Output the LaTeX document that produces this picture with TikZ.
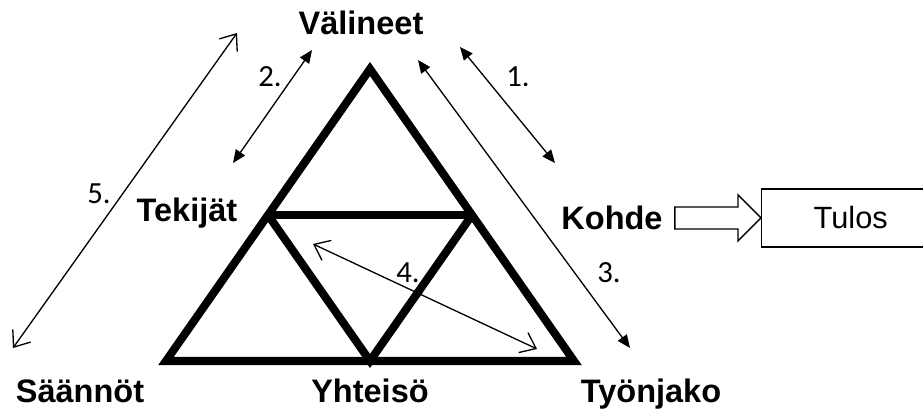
\documentclass[tikz,border=0pt]{standalone}
\usepackage{fontspec}
\setmainfont{Liberation Sans}
\newfontfamily\numfont{Carlito}
\usepackage{tikz}
\usetikzlibrary{arrows.meta,calc}

\tikzset{
  corner/.style={font=\fontsize{18.5}{22}\selectfont\bfseries,inner sep=0pt,anchor=base},
  numlabel/.style={font=\fontsize{17.5}{20}\selectfont\numfont,inner sep=0pt,anchor=base},
  frame/.style={line width=4.6pt,line join=miter},
  solidarrow/.style={line width=0.75pt,{Triangle[length=2.6mm,width=2.2mm]}-{Triangle[length=2.6mm,width=2.2mm]}},
  openarrow/.style={line width=0.75pt,{Straight Barb[length=2.8mm,width=4.4mm]}-{Straight Barb[length=2.8mm,width=4.4mm]}},
}

\begin{document}
\begin{tikzpicture}
\useasboundingbox (0,0) rectangle (18.46,8.18);

% the big triangle and its inner one
\coordinate (top) at (7.40,6.80);
\coordinate (left) at (3.32,0.96);
\coordinate (right) at (11.48,0.96);
\coordinate (midl) at ($(top)!0.5!(left)$);
\coordinate (midr) at ($(top)!0.5!(right)$);
\coordinate (midb) at ($(left)!0.5!(right)$);
\draw[frame] (top) -- (left) -- (right) -- cycle;
\draw[frame] (midl) -- (midr);
\draw[frame] (midl) -- (midb) -- (midr);

% corner labels (placed on their baselines)
\node[corner] (valineet) at (7.22,7.48) {Välineet};
\node[corner] (tekijat) at (3.74,3.74) {Tekijät};
\node[corner] (kohde) at (12.24,3.58) {Kohde};
\node[corner] (saannot) at (1.60,0.12) {Säännöt};
\node[corner] (yhteiso) at (7.40,0.12) {Yhteisö};
\node[corner] (tyonjako) at (13.02,0.12) {Työnjako};

% result box, running off the right edge
\node[draw,line width=0.85pt,minimum width=3.8cm,minimum height=1.16cm,anchor=west,
  font=\fontsize{17.5}{20}\selectfont] (tulos) at (15.22,3.82) {\hspace*{-0.24cm}Tulos};

% hollow arrow from Kohde to Tulos
\coordinate (bstart) at ($(kohde.east)+(0.24,0.22)$);
\coordinate (bend) at (tulos.west);
\draw[line width=0.8pt,fill=white]
  (bstart |- {$(bend)+(0,0.22)$}) -- ($(bend)+(-0.46,0.22)$) -- ($(bend)+(-0.46,0.46)$) -- (bend)
  -- ($(bend)+(-0.46,-0.46)$) -- ($(bend)+(-0.46,-0.22)$) -- (bstart |- {$(bend)+(0,-0.22)$}) -- cycle;

% interaction arrows
\coordinate (a1) at (9.20,7.24);
\coordinate (b1) at (11.10,4.92);
\coordinate (a2) at (6.24,7.18);
\coordinate (b2) at (4.66,4.92);
\coordinate (a3) at (8.36,6.98);
\coordinate (b3) at (12.60,1.22);
\coordinate (a4) at (6.26,3.30);
\coordinate (b4) at (10.74,1.20);
\coordinate (a5) at (4.74,7.52);
\coordinate (b5) at (0.26,1.22);
\draw[solidarrow] (a1) -- (b1);
\draw[solidarrow] (a2) -- (b2);
\draw[solidarrow] (a3) -- (b3);
\draw[openarrow] (a4) -- (b4);
\draw[openarrow] (a5) -- (b5);

\node[numlabel] (n1) at (10.36,6.44) {1.};
\node[numlabel] (n2) at (5.40,6.44) {2.};
\node[numlabel] (n3) at (12.18,2.52) {3.};
\node[numlabel] (n4) at (8.16,2.52) {4.};
\node[numlabel] (n5) at (1.98,4.10) {5.};
\end{tikzpicture}
\end{document}
